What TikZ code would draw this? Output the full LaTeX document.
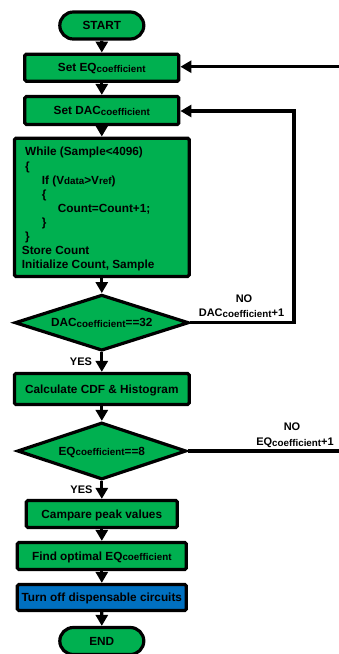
\documentclass[tikz,border=0pt]{standalone}
\usepackage{fontspec}
\setmainfont{Liberation Sans}
\usetikzlibrary{arrows.meta,shapes.geometric,shapes.misc}
\definecolor{boxgreen}{RGB}{0,176,80}
\definecolor{boxblue}{RGB}{0,112,192}
\newcommand\cfsub[1]{\raisebox{-0.6pt}{\fontsize{9.8}{9.8}\selectfont #1}}
\begin{document}
\begin{tikzpicture}[x=1pt,y=-1pt,
  every node/.style={font=\fontsize{11.8}{14}\selectfont\bfseries},
  box/.style={draw=black, line width=3.2pt, fill=boxgreen, rounded corners=1.5pt, inner sep=0pt, text height=9pt, text depth=1pt},
  term/.style={rounded rectangle, draw=black, line width=3.2pt, fill=boxgreen, inner sep=0pt, text height=9pt, text depth=1pt, minimum width=84pt, minimum height=27pt},
  dec/.style={diamond, aspect=3, draw=black, line width=3.2pt, fill=boxgreen, inner sep=0pt, text height=9pt, text depth=1pt},
  conn/.style={line width=3.2pt, -{Triangle[length=11pt,width=12pt]}},
  plain/.style={line width=3.2pt},
  lbl/.style={inner sep=0pt, text height=8.5pt, text depth=1pt, font=\fontsize{11}{13}\selectfont\bfseries},
  codeline/.style={anchor=base west, inner sep=0pt}
]
\useasboundingbox (0,0) rectangle (339,654);

\node[term] (start) at (101.8,25.5) {START};
\node[box, minimum width=154pt, minimum height=27pt] (seteq) at (101.8,67.7) {Set EQ\cfsub{coefficient}};
\node[box, minimum width=154pt, minimum height=28pt] (setdac) at (101.8,110.5) {Set DAC\cfsub{coefficient}};
\node[box, minimum width=174.7pt, minimum height=138.3pt] (loop) at (101.8,207.3) {};
\node[codeline] (l1) at (25,155.9) {While (Sample<4096)};
\node[codeline] (l2) at (25,170.0) {\{};
\node[codeline] (l3) at (41.7,184.1) {If (V\cfsub{data}>V\cfsub{ref})};
\node[codeline] (l4) at (41.7,198.2) {\{};
\node[codeline] (l5) at (57.7,212.3) {Count=Count+1;};
\node[codeline] (l6) at (41.7,226.4) {\}};
\node[codeline] (l7) at (25,240.5) {\}};
\node[codeline] (l8) at (21.7,254.6) {Store Count};
\node[codeline] (l9) at (21.7,268.7) {Initialize Count, Sample};
\node[dec, minimum width=174pt, minimum height=56pt] (dac) at (101.8,322.7) {DAC\cfsub{coefficient}==32};
\node[box, minimum width=174.7pt, minimum height=31pt] (calc) at (101.8,389) {Calculate CDF \& Histogram};
\node[dec, minimum width=169pt, minimum height=57pt] (eq) at (101.8,451) {EQ\cfsub{coefficient}==8};
\node[box, minimum width=151pt, minimum height=27pt] (comp) at (101.8,514) {Campare peak values};
\node[box, minimum width=169pt, minimum height=27pt] (find) at (101.8,556) {Find optimal EQ\cfsub{coefficient}};
\node[box, fill=boxblue, minimum width=169pt, minimum height=26pt] (off) at (101.8,597.5) {Turn off dispensable circuits};
\node[term] (end) at (101.8,641) {END};

\draw[conn] (start) -- (seteq);
\draw[conn] (seteq) -- (setdac);
\draw[conn] (setdac) -- (loop);
\draw[conn] (loop) -- (dac);
\draw[conn] (dac) -- (calc);
\draw[conn] (calc) -- (eq);
\draw[conn] (eq) -- (comp);
\draw[conn] (comp) -- (find);
\draw[conn] (find) -- (off);
\draw[conn] (off) -- (end);

\coordinate (eqret) at (341,66.7);
\draw[conn] (eqret) -- (eqret -| seteq.east);
\coordinate (dacret) at (294,111);
\draw[conn] (dac.east) -| (dacret) -- (dacret -| setdac.east);
\coordinate (eqout) at (341,451);
\draw[plain] (eq.east) -- (eqout |- eq.east);

\node[lbl] (no1) at (244,299) {NO};
\node[lbl] (no1t) at (241.5,313) {DAC\cfsub{coefficient}+1};
\node[lbl] (yes1) at (81,362) {YES};
\node[lbl] (no2) at (292,427) {NO};
\node[lbl] (no2t) at (295,442) {EQ\cfsub{coefficient}+1};
\node[lbl] (yes2) at (81.5,490) {YES};
\end{tikzpicture}
\end{document}
